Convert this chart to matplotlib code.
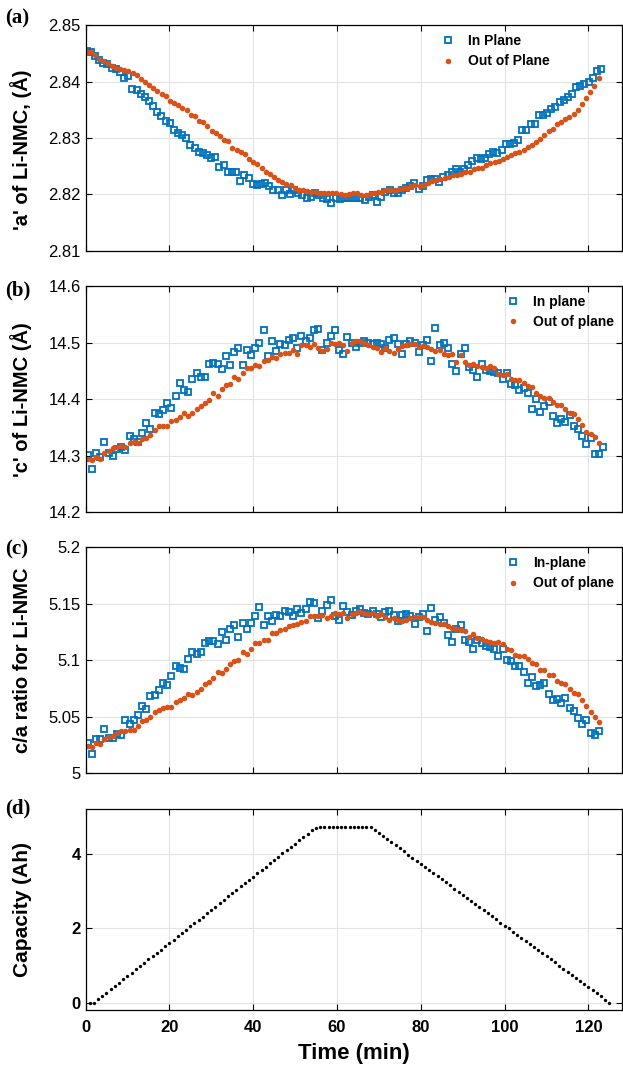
import numpy as np
import matplotlib
matplotlib.use('Agg')
import matplotlib.pyplot as plt

# ---- panel (a): lattice parameter a ----
a_in = [2.8455, 2.8453, 2.8445, 2.8439, 2.8433, 2.8431, 2.8424, 2.8422, 2.8418, 2.8406,
        2.8410, 2.8387, 2.8385, 2.8378, 2.8372, 2.8366, 2.8356, 2.8347, 2.8339, 2.8331,
        2.8327, 2.8315, 2.8309, 2.8306, 2.8300, 2.8288, 2.8282, 2.8275, 2.8274, 2.8269,
        2.8264, 2.8267, 2.8249, 2.8252, 2.8240, 2.8240, 2.8239, 2.8224, 2.8235, 2.8229,
        2.8218, 2.8216, 2.8219, 2.8221, 2.8214, 2.8208, 2.8208, 2.8199, 2.8208, 2.8200,
        2.8208, 2.8202, 2.8198, 2.8193, 2.8196, 2.8202, 2.8199, 2.8194, 2.8192, 2.8184,
        2.8193, 2.8192, 2.8193, 2.8193, 2.8194,
        2.8193, 2.8193, 2.8190, 2.8196, 2.8199, 2.8187, 2.8196, 2.8205, 2.8208, 2.8202,
        2.8202, 2.8208, 2.8212, 2.8214, 2.8221, 2.8209, 2.8215, 2.8225, 2.8227, 2.8227,
        2.8222, 2.8231, 2.8234, 2.8240, 2.8245, 2.8240, 2.8245, 2.8252, 2.8259, 2.8264,
        2.8262, 2.8265, 2.8272, 2.8275, 2.8274, 2.8278, 2.8289, 2.8290, 2.8292, 2.8296,
        2.8314, 2.8315, 2.8324, 2.8324, 2.8340, 2.8340, 2.8345, 2.8351, 2.8355, 2.8364,
        2.8368, 2.8372, 2.8378, 2.8390, 2.8393, 2.8396, 2.8400, 2.8406, 2.8419, 2.8422]
a_out = [2.8453, 2.8452, 2.8447, 2.8441, 2.8437, 2.8433, 2.8428, 2.8425, 2.8422, 2.8421,
         2.8419, 2.8415, 2.8412, 2.8405, 2.8400, 2.8394, 2.8388, 2.8384, 2.8378, 2.8374,
         2.8366, 2.8362, 2.8358, 2.8354, 2.8349, 2.8341, 2.8339, 2.8330, 2.8328, 2.8321,
         2.8312, 2.8308, 2.8304, 2.8296, 2.8294, 2.8282, 2.8278, 2.8275, 2.8271, 2.8262,
         2.8258, 2.8253, 2.8247, 2.8240, 2.8237, 2.8231, 2.8225, 2.8222, 2.8219, 2.8216,
         2.8212, 2.8208, 2.8208, 2.8206, 2.8205, 2.8205, 2.8202, 2.8202, 2.8202, 2.8202,
         2.8203, 2.8200, 2.8199, 2.8200, 2.8202,
         2.8202, 2.8199, 2.8198, 2.8200, 2.8202, 2.8205, 2.8205, 2.8207, 2.8208, 2.8208,
         2.8209, 2.8211, 2.8212, 2.8214, 2.8216, 2.8214, 2.8216, 2.8221, 2.8223, 2.8225,
         2.8227, 2.8229, 2.8231, 2.8234, 2.8235, 2.8237, 2.8239, 2.8240, 2.8245, 2.8246,
         2.8247, 2.8252, 2.8255, 2.8257, 2.8259, 2.8262, 2.8266, 2.8270, 2.8273, 2.8275,
         2.8278, 2.8284, 2.8288, 2.8293, 2.8298, 2.8305, 2.8312, 2.8316, 2.8324, 2.8328,
         2.8333, 2.8337, 2.8343, 2.8349, 2.8361, 2.8371, 2.8382, 2.8392, 2.8406]

# ---- panel (b): lattice parameter c ----
c_in = [14.302, 14.276, 14.305, 14.298, 14.325, 14.305, 14.300, 14.312, 14.315, 14.310,
        14.335, 14.330, 14.325, 14.340, 14.358, 14.348, 14.375, 14.374, 14.380, 14.393,
        14.385, 14.405, 14.428, 14.417, 14.413, 14.436, 14.446, 14.440, 14.440, 14.462,
        14.464, 14.462, 14.454, 14.477, 14.460, 14.483, 14.490, 14.460, 14.487, 14.478,
        14.490, 14.500, 14.523, 14.477, 14.502, 14.485, 14.498, 14.495, 14.505, 14.508,
        14.490, 14.512, 14.502, 14.508, 14.523, 14.524, 14.487, 14.500, 14.512, 14.522,
        14.487, 14.480, 14.510, 14.500, 14.492, 14.500, 14.502, 14.500, 14.497, 14.500,
        14.497, 14.490, 14.505, 14.508, 14.497, 14.480, 14.498, 14.502, 14.500, 14.483,
        14.495, 14.505, 14.468, 14.525, 14.495, 14.500, 14.490, 14.462, 14.450, 14.480,
        14.490, 14.456, 14.452, 14.440, 14.462, 14.452, 14.450, 14.448, 14.446, 14.436,
        14.447, 14.426, 14.425, 14.416, 14.419, 14.411, 14.382, 14.400, 14.378, 14.388,
        14.395, 14.371, 14.358, 14.365, 14.359, 14.372, 14.352, 14.348, 14.335, 14.320,
        14.331, 14.303, 14.303, 14.316]
c_out = [14.295, 14.292, 14.298, 14.294, 14.304, 14.308, 14.313, 14.316, 14.318, 14.316,
         14.323, 14.325, 14.322, 14.330, 14.332, 14.337, 14.345, 14.352, 14.353, 14.352,
         14.362, 14.363, 14.368, 14.375, 14.370, 14.376, 14.383, 14.388, 14.393, 14.398,
         14.411, 14.406, 14.418, 14.425, 14.426, 14.440, 14.435, 14.447, 14.455, 14.455,
         14.460, 14.459, 14.468, 14.470, 14.475, 14.473, 14.480, 14.481, 14.482, 14.487,
         14.480, 14.495, 14.496, 14.492, 14.498, 14.490, 14.485, 14.488, 14.500, 14.498,
         14.500, 14.495, 14.485, 14.500, 14.502, 14.503, 14.500, 14.496, 14.492, 14.490,
         14.483, 14.490, 14.485, 14.482, 14.488, 14.494, 14.495, 14.497, 14.498, 14.492,
         14.494, 14.493, 14.488, 14.485, 14.486, 14.480, 14.478, 14.480, 14.465, 14.478,
         14.466, 14.460, 14.462, 14.458, 14.456, 14.455, 14.458, 14.455, 14.445, 14.442,
         14.445, 14.436, 14.433, 14.434, 14.428, 14.423, 14.422, 14.410, 14.405, 14.402,
         14.402, 14.395, 14.390, 14.390, 14.383, 14.375, 14.374, 14.365, 14.355, 14.342,
         14.338, 14.333, 14.322]

# ---- panel (c): c/a ratio ----
ca_in = [5.027, 5.017, 5.030, 5.030, 5.039, 5.031, 5.031, 5.035, 5.034, 5.047,
         5.044, 5.047, 5.052, 5.060, 5.057, 5.068, 5.069, 5.074, 5.080, 5.078,
         5.086, 5.095, 5.093, 5.092, 5.101, 5.107, 5.106, 5.107, 5.115, 5.117,
         5.117, 5.114, 5.125, 5.118, 5.128, 5.131, 5.121, 5.133, 5.128, 5.133,
         5.139, 5.147, 5.131, 5.139, 5.135, 5.140, 5.139, 5.144, 5.143, 5.139,
         5.145, 5.142, 5.145, 5.152, 5.151, 5.137, 5.144, 5.149, 5.153, 5.139,
         5.136, 5.148, 5.143, 5.140, 5.144, 5.145, 5.142, 5.141, 5.144, 5.141,
         5.138, 5.143, 5.144, 5.140, 5.135, 5.140, 5.141, 5.139, 5.132, 5.138,
         5.141, 5.126, 5.146, 5.136, 5.138, 5.133, 5.122, 5.116, 5.128, 5.131,
         5.118, 5.116, 5.110, 5.118, 5.115, 5.113, 5.112, 5.110, 5.104, 5.110,
         5.100, 5.099, 5.095, 5.095, 5.090, 5.080, 5.085, 5.077, 5.078, 5.080,
         5.070, 5.065, 5.066, 5.062, 5.067, 5.058, 5.055, 5.049, 5.044, 5.047,
         5.036, 5.034, 5.037]
ca_out = [5.024, 5.023, 5.027, 5.026, 5.030, 5.032, 5.033, 5.036, 5.037, 5.037,
          5.038, 5.038, 5.042, 5.046, 5.047, 5.050, 5.054, 5.056, 5.058, 5.059,
          5.059, 5.063, 5.065, 5.067, 5.070, 5.069, 5.072, 5.075, 5.079, 5.081,
          5.084, 5.090, 5.089, 5.092, 5.097, 5.099, 5.100, 5.107, 5.106, 5.110,
          5.115, 5.115, 5.118, 5.118, 5.124, 5.124, 5.127, 5.128, 5.130, 5.131,
          5.132, 5.134, 5.135, 5.139, 5.139, 5.139, 5.140, 5.137, 5.139, 5.142,
          5.141, 5.142, 5.137, 5.141, 5.142, 5.143, 5.142, 5.141, 5.142, 5.139,
          5.141, 5.138, 5.136, 5.137, 5.136, 5.135, 5.136, 5.137, 5.138, 5.138,
          5.138, 5.136, 5.134, 5.133, 5.132, 5.132, 5.130, 5.129, 5.128, 5.127,
          5.126, 5.121, 5.123, 5.120, 5.119, 5.117, 5.116, 5.115, 5.116, 5.114,
          5.110, 5.109, 5.105, 5.104, 5.104, 5.101, 5.098, 5.097, 5.091, 5.091,
          5.087, 5.087, 5.082, 5.080, 5.079, 5.075, 5.071, 5.070, 5.065, 5.060,
          5.054, 5.050, 5.045]

# ---- panel (d): capacity, one reading per minute from t = 1 min ----
cap = [0.00, 0.00, 0.09, 0.18, 0.27, 0.36, 0.45, 0.53, 0.62, 0.71,
       0.80, 0.89, 0.98, 1.07, 1.16, 1.25, 1.34, 1.42, 1.51, 1.60,
       1.69, 1.78, 1.87, 1.96, 2.05, 2.14, 2.23, 2.31, 2.40, 2.49,
       2.58, 2.67, 2.76, 2.85, 2.94, 3.03, 3.12, 3.20, 3.29, 3.38,
       3.47, 3.56, 3.65, 3.74, 3.83, 3.92, 4.01, 4.09, 4.18, 4.27,
       4.36, 4.45, 4.54, 4.63, 4.70, 4.72, 4.72, 4.72, 4.72, 4.72,
       4.72, 4.72, 4.72, 4.72, 4.72, 4.72, 4.72, 4.72, 4.64, 4.55,
       4.47, 4.39, 4.31, 4.22, 4.14, 4.06, 3.97, 3.89, 3.81, 3.73,
       3.64, 3.56, 3.48, 3.39, 3.31, 3.23, 3.15, 3.06, 2.98, 2.90,
       2.82, 2.73, 2.65, 2.57, 2.48, 2.40, 2.32, 2.24, 2.15, 2.07,
       1.99, 1.90, 1.82, 1.74, 1.66, 1.57, 1.49, 1.41, 1.32, 1.24,
       1.16, 1.08, 0.99, 0.91, 0.83, 0.75, 0.66, 0.58, 0.50, 0.41,
       0.33, 0.25, 0.17, 0.08, 0.00]

t_a_in = np.linspace(0.3, 123.0, len(a_in))
t_a_out = np.linspace(0.3, 122.4, len(a_out))
t_c_in = np.linspace(0.5, 123.5, len(c_in))
t_c_out = np.linspace(0.5, 122.5, len(c_out))
t_ca_in = np.linspace(0.5, 122.5, len(ca_in))
t_ca_out = np.linspace(0.5, 122.5, len(ca_out))
t_cap = np.arange(1, len(cap) + 1)

BLUE = '#0072BD'
ORANGE = '#D95319'
W, H = 623, 1069

plt.rcParams['font.family'] = ['Liberation Sans', 'DejaVu Sans']

fig = plt.figure(figsize=(W / 100, H / 100), dpi=100)


def make_ax(top, bottom):
    ax = fig.add_axes([85.5 / W, 1 - bottom / H, (622 - 85.5) / W, (bottom - top) / H])
    ax.set_xlim(0, 128)
    ax.set_xticks(np.arange(0, 121, 20))
    ax.grid(True, color='#e3e3e3', linewidth=0.8)
    ax.set_axisbelow(True)
    ax.tick_params(direction='in', top=True, right=True, length=4, width=0.8,
                   labelsize=12)
    for s in ax.spines.values():
        s.set_linewidth(0.9)
    return ax


sq = dict(marker='s', ls='none', ms=4.4, mfc='none', mec=BLUE, mew=1.3)
dot = dict(marker='o', ls='none', ms=4.0, mfc=ORANGE, mec=ORANGE, mew=0)
leg_font = dict(weight='bold', size=10)


def add_legend(ax, xr):
    ax.legend(loc='upper right', bbox_to_anchor=(xr, 0.985), frameon=False,
              prop=leg_font, handletextpad=0.8, labelspacing=0.45,
              borderaxespad=0, handlelength=1.2)


# (a)
ax = make_ax(25.3, 250.7)
ax.plot(t_a_in, a_in, label='In Plane', **sq)
ax.plot(t_a_out, a_out, label='Out of Plane', **dot)
ax.set_ylim(2.81, 2.85)
ax.set_yticks([2.81, 2.82, 2.83, 2.84, 2.85])
ax.set_yticklabels(['2.81', '2.82', '2.83', '2.84', '2.85'])
ax.set_xticklabels([])
ax.set_ylabel("'a' of Li-NMC, (\u00c5)", fontsize=14.5, fontweight='bold')
ax.yaxis.set_label_coords(-0.1, 0.45)
add_legend(ax, 0.875)

# (b)
ax = make_ax(286.0, 512.3)
ax.plot(t_c_in, c_in, label='In plane', **sq)
ax.plot(t_c_out, c_out, label='Out of plane', **dot)
ax.set_ylim(14.2, 14.6)
ax.set_yticks([14.2, 14.3, 14.4, 14.5, 14.6])
ax.set_yticklabels(['14.2', '14.3', '14.4', '14.5', '14.6'])
ax.set_xticklabels([])
ax.set_ylabel("'c' of Li-NMC (\u00c5)", fontsize=14.5, fontweight='bold')
ax.yaxis.set_label_coords(-0.1, 0.5)
add_legend(ax, 0.995)

# (c)
ax = make_ax(547.3, 773.3)
ax.plot(t_ca_in, ca_in, label='In-plane', **sq)
ax.plot(t_ca_out, ca_out, label='Out of plane', **dot)
ax.set_ylim(5.0, 5.2)
ax.set_yticks([5.0, 5.05, 5.1, 5.15, 5.2])
ax.set_yticklabels(['5', '5.05', '5.1', '5.15', '5.2'])
ax.set_xticklabels([])
ax.set_ylabel('c/a ratio for Li-NMC', fontsize=14.5, fontweight='bold')
ax.yaxis.set_label_coords(-0.1, 0.5)
add_legend(ax, 0.995)

# (d)
ax = make_ax(809.0, 1010.0)
ax.plot(t_cap, cap, marker='o', ls='none', ms=2.4, color='black', mew=0)
ax.set_ylim(-0.2, 5.2)
ax.set_yticks([0, 2, 4])
ax.tick_params(axis='x', pad=7)
for lab in ax.get_xticklabels() + ax.get_yticklabels():
    lab.set_fontweight('bold')
ax.set_xlabel('Time (min)', fontsize=16, fontweight='bold', labelpad=6)
ax.set_ylabel('Capacity (Ah)', fontsize=15, fontweight='bold')
ax.yaxis.set_label_coords(-0.1, 0.5)

for letter, yc in [('(a)', 18), ('(b)', 290), ('(c)', 549), ('(d)', 808)]:
    fig.text(5 / W, 1 - yc / H, letter, fontsize=15, fontweight='bold',
             family=['Liberation Serif', 'DejaVu Serif'], va='center', ha='left')

fig.savefig('out.png', dpi=100)
